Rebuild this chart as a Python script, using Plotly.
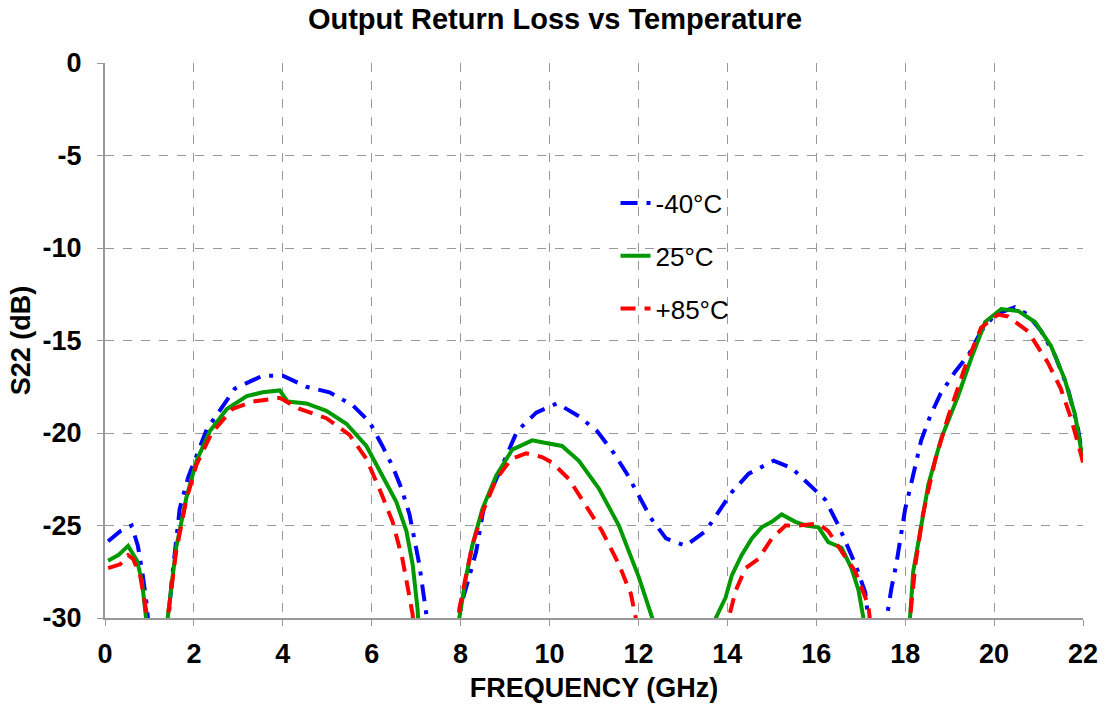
import plotly.graph_objects as go

# -40°C
freq_m40 = [0.07, 0.35, 0.6, 0.74, 0.85, 0.94, 1.0, None,
            1.4, 1.5, 1.68, 1.87, 2.29, 2.92, 3.55, 4.0, 4.53, 5.05, 5.57, 5.95, 6.24, 6.47, 6.67, 6.85, 7.07, 7.18, 7.23, 7.3, None,
            7.95, 8.01, 8.19, 8.35, 8.53, 8.8, 9.27, 9.7, 10.17, 10.66, 11.07, 11.45, 11.74, 12.01, 12.28, 12.62, 13.06, 13.51, 13.8, 14.1, 14.48, 15.04, 15.45, 15.76, 16.2, 16.5, 16.88, 17.1, 17.17, 17.22, None,
            17.52, 17.58, 17.69, 17.8, 17.89, 18.0, 18.11, 18.23, 18.36, 18.56, 18.79, 19.12, 19.42, 19.71, 20.02, 20.47, 20.76, 21.06, 21.37, 21.66, 21.89, 22.0]
s22_m40 = [-25.85, -25.3, -25.0, -26.1, -27.7, -29.3, -31, None,
           -31, -28.0, -24.1, -22.4, -19.8, -17.6, -16.9, -16.9, -17.5, -17.8, -18.5, -19.4, -20.7, -21.8, -23.0, -24.4, -27.1, -28.8, -29.8, -31, None,
           -31, -29.3, -27.8, -26.4, -23.9, -22.5, -19.9, -18.9, -18.4, -19.1, -19.9, -21.1, -22.2, -23.4, -24.6, -25.7, -26.1, -25.3, -24.3, -23.2, -22.2, -21.5, -21.9, -22.6, -23.6, -25.0, -27.1, -28.6, -30.0, -31, None,
           -31, -30.0, -28.4, -27.1, -25.7, -24.1, -23.0, -21.7, -20.4, -19.1, -17.9, -16.7, -15.8, -14.5, -13.6, -13.2, -13.6, -14.5, -15.8, -17.6, -19.8, -21.4]

# 25°C
freq_25 = [0.07, 0.3, 0.52, 0.72, 0.83, 0.94, 0.97, None,
           1.38, 1.41, 1.6, 1.83, 2.06, 2.36, 2.74, 3.19, 3.55, 3.93, 4.11, 4.53, 4.98, 5.43, 5.88, 6.24, 6.55, 6.78, 6.92, 7.03, 7.07, None,
           7.95, 7.97, 8.12, 8.26, 8.49, 8.8, 9.16, 9.61, 9.83, 10.28, 10.66, 11.11, 11.56, 12.01, 12.31, 12.35, None,
           13.7, 13.74, 13.96, 14.1, 14.32, 14.55, 14.77, 15.0, 15.22, 15.53, 15.76, 16.05, 16.27, 16.57, 16.79, 16.95, 17.06, 17.1, None,
           18.08, 18.11, 18.18, 18.34, 18.52, 18.81, 19.19, 19.48, 19.8, 20.16, 20.54, 20.92, 21.28, 21.59, 21.82, 22.0]
s22_25 = [-26.9, -26.6, -26.1, -26.9, -28.0, -30.0, -31, None,
          -31, -30.0, -26.2, -23.5, -21.5, -19.9, -18.7, -18.0, -17.8, -17.7, -18.3, -18.4, -18.8, -19.5, -20.7, -22.3, -23.7, -25.3, -27.1, -29.5, -31, None,
          -31, -30.0, -27.8, -26.1, -24.1, -22.3, -20.9, -20.4, -20.5, -20.7, -21.5, -23.0, -25.0, -27.8, -30.0, -31, None,
          -31, -30.0, -28.9, -27.7, -26.6, -25.7, -25.1, -24.8, -24.4, -24.8, -25.0, -25.1, -25.9, -26.2, -27.3, -28.5, -30.0, -31, None,
          -31, -30.0, -27.5, -25.3, -22.8, -20.3, -18.0, -16.0, -14.0, -13.3, -13.4, -14.0, -15.3, -17.1, -19.0, -21.5]

# +85°C
freq_p85 = [0.07, 0.34, 0.52, 0.63, 0.79, 0.94, 0.97, None,
            1.38, 1.41, 1.6, 1.83, 2.06, 2.4, 2.87, 3.32, 3.93, 4.38, 4.98, 5.5, 5.88, 6.17, 6.47, 6.69, 6.92, 6.96, None,
            7.93, 7.97, 8.08, 8.26, 8.49, 8.8, 9.14, 9.47, 9.83, 10.06, 10.44, 10.82, 11.18, 11.56, 11.83, 11.94, 11.98, None,
            13.98, 14.03, 14.19, 14.41, 14.7, 15.0, 15.31, 15.6, 16.05, 16.27, 16.57, 16.88, 17.17, 17.25, None,
            18.08, 18.11, 18.23, 18.4, 18.67, 18.97, 19.35, 19.71, 20.09, 20.31, 20.76, 21.21, 21.5, 21.73, 21.96, 22.0]
s22_p85 = [-27.3, -27.1, -26.6, -26.8, -27.7, -29.8, -31, None,
           -31, -30.0, -26.4, -23.6, -21.7, -20.0, -18.7, -18.3, -18.1, -18.7, -19.2, -20.1, -21.4, -23.0, -24.8, -26.8, -29.8, -31, None,
           -31, -29.5, -28.2, -26.1, -24.3, -22.5, -21.4, -21.1, -21.3, -21.6, -22.5, -23.9, -25.3, -27.1, -28.7, -30.0, -31, None,
           -31, -30.0, -28.5, -27.3, -26.8, -25.7, -25.0, -25.0, -24.9, -25.3, -26.4, -27.5, -29.3, -31, None,
           -31, -30.0, -27.1, -24.4, -21.5, -19.1, -16.4, -14.3, -13.6, -13.7, -14.5, -16.2, -17.6, -19.2, -21.2, -21.6]

series_names = ["-40°C", "25°C", "+85°C"]
x_ticks = [0, 2, 4, 6, 8, 10, 12, 14, 16, 18, 20, 22]
y_ticks = [0, -5, -10, -15, -20, -25, -30]

FONT = "Arial, Liberation Sans, sans-serif"

fig = go.Figure()
fig.add_trace(go.Scatter(x=freq_m40, y=s22_m40, mode="lines", name=series_names[0],
                         legendgroup="a",
                         line=dict(color="#0000FF", width=4, dash="17px,9px,4px,9px")))
fig.add_trace(go.Scatter(x=freq_25, y=s22_25, mode="lines", name=series_names[1],
                         legendgroup="b",
                         line=dict(color="#009900", width=4)))
fig.add_trace(go.Scatter(x=freq_p85, y=s22_p85, mode="lines", name=series_names[2],
                         legendgroup="c",
                         line=dict(color="#FF0000", width=4, dash="15px,9px")))

# white legend background box (hides gridlines behind legend, as in reference)
fig.add_shape(type="rect", xref="paper", yref="paper",
              x0=(543 - 105) / 980, x1=(740 - 105) / 980,
              y0=1 - (338 - 63) / 557, y1=1 - (175 - 63) / 557,
              fillcolor="white", line=dict(width=0), layer="between")

fig.update_layout(
    width=1110, height=710,
    margin=dict(l=105, r=25, t=63, b=90),
    paper_bgcolor="white", plot_bgcolor="white",
    font=dict(family=FONT, size=27, color="black"),
    title=dict(text="<b>Output Return Loss vs Temperature</b>", x=0.5, xanchor="center",
               y=1 - 19 / 710, yanchor="middle", font=dict(size=29, family=FONT)),
    legend=dict(x=0.522, y=0.79, xanchor="left", yanchor="top",
                bgcolor="rgba(255,255,255,0)", borderwidth=0, tracegroupgap=16,
                font=dict(size=26, family=FONT)),
    showlegend=True,
)
fig.update_xaxes(range=[0, 22], tickvals=x_ticks, ticktext=[f"<b>{v}</b>" for v in x_ticks],
                 showgrid=True, gridcolor="#999999", griddash="dash", gridwidth=1,
                 showline=True, linecolor="#999999", linewidth=2, mirror=False,
                 ticks="outside", ticklen=6, tickcolor="#999999", ticklabelstandoff=5,
                 title=dict(text="<b>FREQUENCY (GHz)</b>", standoff=10, font=dict(size=27)),
                 zeroline=False, tickfont=dict(size=27))
fig.update_yaxes(range=[-30, 0], tickvals=y_ticks, ticktext=[f"<b>{v}</b>" for v in y_ticks],
                 showgrid=True, gridcolor="#999999", griddash="dash", gridwidth=1,
                 showline=True, linecolor="#999999", linewidth=2,
                 ticks="outside", ticklen=6, tickcolor="#999999", ticklabelstandoff=10,
                 title=dict(text="<b>S22 (dB)</b>", standoff=4, font=dict(size=27)),
                 zeroline=False, tickfont=dict(size=27))

fig.write_html("out.html")
